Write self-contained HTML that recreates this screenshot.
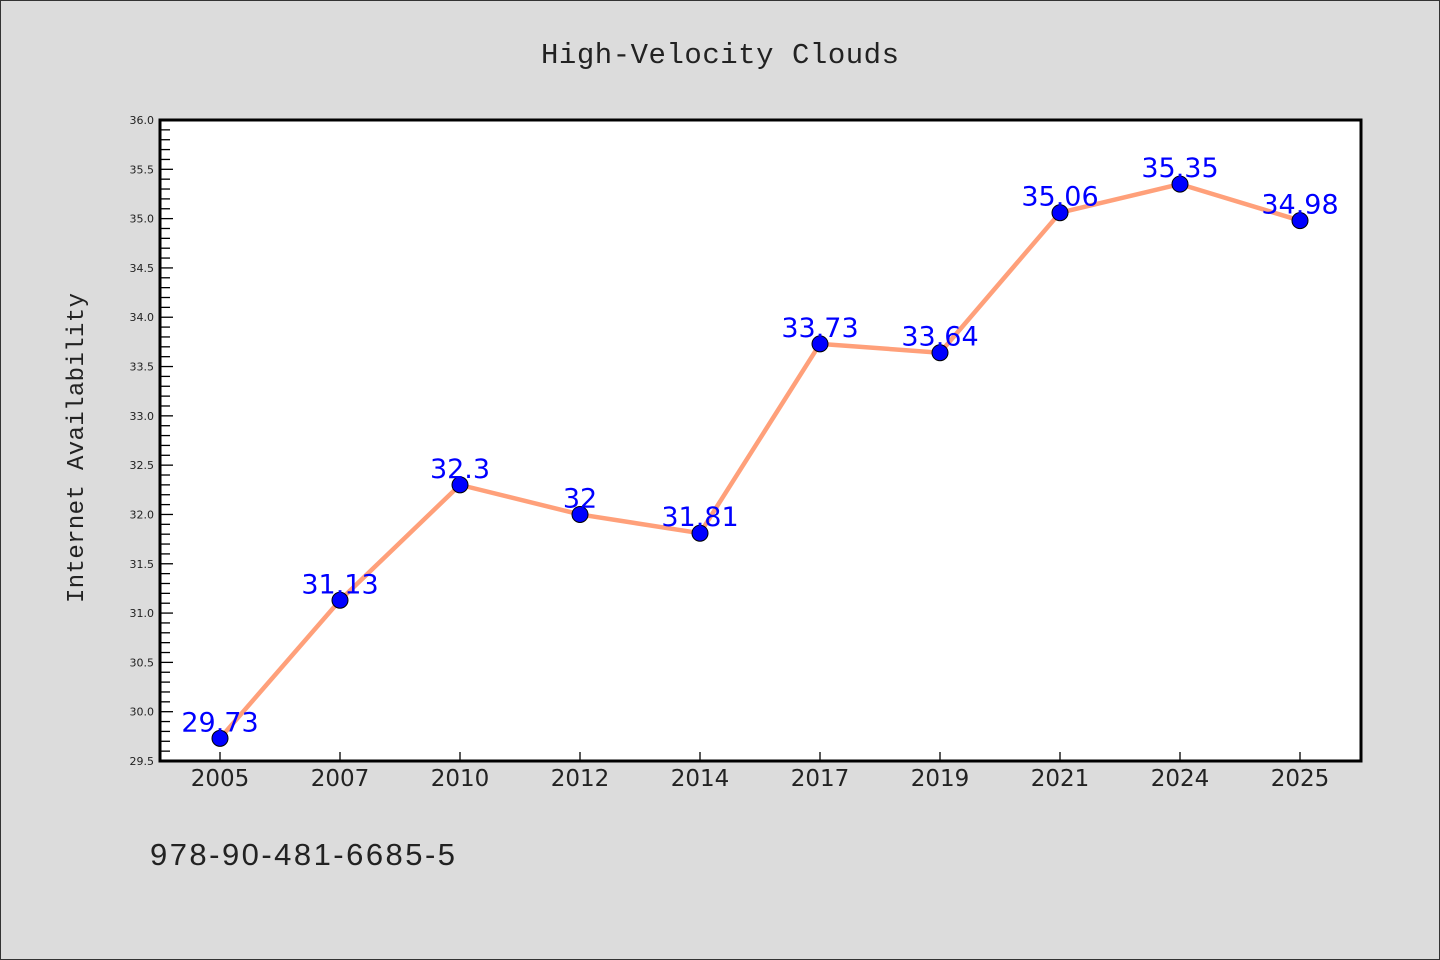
<!DOCTYPE html>
<html><head><meta charset="utf-8"><style>
html,body{margin:0;padding:0;background:#dcdcdc;}
svg{display:block;}
</style></head><body>
<svg width="1440" height="960" xmlns="http://www.w3.org/2000/svg">
<rect x="0.5" y="0.5" width="1439" height="959" fill="#dcdcdc" stroke="#333"/>
<text x="720" y="63" text-anchor="middle" font-family="'WenQuanYi Zen Hei','Liberation Mono',monospace" font-size="29" textLength="358" fill="#222">High-Velocity Clouds</text>
<rect x="160" y="120" width="1201" height="641" fill="#fff"/>
<g id="yaxis"></g>
<g id="xaxis"></g>
<g id="series"></g>
<rect x="160" y="120" width="1201" height="641" fill="none" stroke="#000" stroke-width="3"/>
<text x="83" y="448" text-anchor="middle" transform="rotate(-90 83 448)" font-family="'WenQuanYi Zen Hei','Liberation Mono',monospace" font-size="24" textLength="310" fill="#222">Internet Availability</text>
<text x="150" y="865" font-family="'WenQuanYi Zen Hei','Liberation Sans',sans-serif" font-size="31" textLength="305" fill="#222">978-90-481-6685-5</text>
</svg>
<script>
const categories = ["2005","2007","2010","2012","2014","2017","2019","2021","2024","2025"];
const values = [29.73,31.13,32.3,32,31.81,33.73,33.64,35.06,35.35,34.98];
const yTicks = ["29.5","30.0","30.5","31.0","31.5","32.0","32.5","33.0","33.5","34.0","34.5","35.0","35.5","36.0"];
const NS="http://www.w3.org/2000/svg";
const L=160,R=1361,T=120,B=761,yMin=29.5,yMax=36.0;
function y(v){return B-(v-yMin)/(yMax-yMin)*(B-T);}
function x(i){const pad=60;return L+pad+i*((R-L-2*pad-1)/(categories.length-1));}
function mk(tag,attrs,parent){const e=document.createElementNS(NS,tag);for(const k in attrs)e.setAttribute(k,attrs[k]);parent.appendChild(e);return e;}
const ya=document.getElementById('yaxis'),xa=document.getElementById('xaxis'),sg=document.getElementById('series');
for(let k=0;k<=65;k++){const v=yMin+k*0.1;const yy=y(v);const major=k%5===0;
 const t=mk('line',{x1:L,x2:L+(major?13:10),y1:yy,y2:yy,stroke:'#000','stroke-width':1.3},ya);
 
 }
yTicks.forEach(s=>{const t=mk('text',{x:L-6,y:y(parseFloat(s))+4,'text-anchor':'end','font-family':"'DejaVu Sans',sans-serif",'font-size':11,fill:'#222'},ya);t.textContent=s;
 
 });
categories.forEach((c,i)=>{const tk=mk('line',{x1:x(i),x2:x(i),y1:B,y2:B-9,stroke:'#000','stroke-width':1.3},xa);
 
 
 const t=mk('text',{x:x(i),y:B+25,'text-anchor':'middle','font-family':"'DejaVu Sans','Liberation Sans',sans-serif",'font-size':23,fill:'#222'},xa);t.textContent=c;
 
 });
const pl=mk('polyline',{points:values.map((v,i)=>x(i)+','+y(v)).join(' '),fill:'none',stroke:'#ffa07a','stroke-width':4.5,'stroke-linejoin':'round'},sg);


values.forEach((v,i)=>{const c=mk('circle',{cx:x(i),cy:y(v),r:8,fill:'#0000ff',stroke:'#000','stroke-width':1},sg);
 
 });
values.forEach((v,i)=>{const t=mk('text',{x:x(i),y:y(v)-7,'text-anchor':'middle','font-family':"'DejaVu Sans','Liberation Sans',sans-serif",'font-size':27,fill:'#0000ff'},sg);t.textContent=String(v);
 
 });
</script>
</body></html>
